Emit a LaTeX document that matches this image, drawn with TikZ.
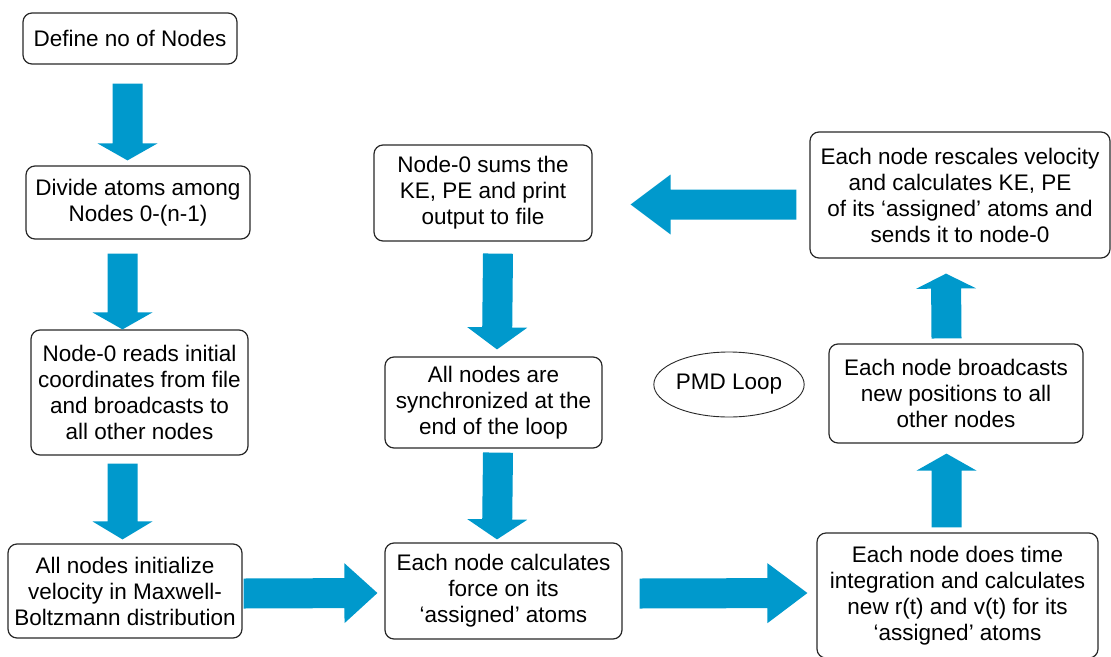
\documentclass[tikz,border=0pt]{standalone}
\usepackage{fontspec}
\setmainfont{Liberation Sans}
\usetikzlibrary{calc,shapes.geometric}
\definecolor{arrowblue}{RGB}{0,153,204}
\definecolor{boxline}{RGB}{40,40,40}
\newcommand\blockarrow[3]{%
  \coordinate (ba-h) at ($(#2)!#3!(#1)$);
  \fill[arrowblue] ($(#1)!15pt!90:(#2)$) -- ($(ba-h)!15pt!90:(#2)$) -- ($(ba-h)!30pt!90:(#2)$) -- (#2)
    -- ($(ba-h)!30pt!-90:(#2)$) -- ($(ba-h)!15pt!-90:(#2)$) -- ($(#1)!15pt!-90:(#2)$) -- cycle;}
\tikzset{
  box/.style={draw=boxline, line width=1.2pt, rounded corners=9pt, fill=white, align=center,
    inner sep=2pt, font=\fontsize{22.5}{26}\selectfont, text=black},
  loopnode/.style={draw=boxline, line width=0.9pt, ellipse, inner sep=0pt, align=center,
    font=\fontsize{22.5}{26}\selectfont, text=black}
}
\begin{document}
\begin{tikzpicture}[x=1pt,y=-1pt]
\useasboundingbox (0,0) rectangle (1111,656);
\fill[white] (0,0) rectangle (1111,656);
% boxes
\node[box, minimum width=214pt, minimum height=51pt] (b1) at (130,38.5) {Define no of Nodes};
\node[box, minimum width=224pt, minimum height=73pt] (b2) at (138,202.5) {Divide atoms among\\Nodes 0-(n-1)};
\node[box, minimum width=217pt, minimum height=125pt] (b3) at (139.5,392.5) {Node-0 reads initial\\coordinates from file\\and broadcasts to\\all other nodes};
\node[box, minimum width=234pt, minimum height=94pt] (b4) at (125,591) {All nodes initialize\\velocity in Maxwell-\\Boltzmann distribution};
\node[box, minimum width=218pt, minimum height=96pt] (b5) at (483,193) {Node-0 sums the\\KE, PE and print\\output to file};
\node[box, minimum width=217pt, minimum height=91pt] (b6) at (493.5,402.5) {All nodes are\\synchronized at the\\end of the loop};
\node[box, minimum width=237pt, minimum height=96pt] (b7) at (503.5,591) {Each node calculates\\force on its\\‘assigned’ atoms};
\node[box, minimum width=254pt, minimum height=99pt] (b8) at (956,393.5) {Each node broadcasts\\new positions to all\\other nodes};
\node[box, minimum width=281pt, minimum height=125pt] (b9) at (957.5,595.5) {Each node does time\\integration and calculates\\new r(t) and v(t) for its\\‘assigned’ atoms};
\node[box, minimum width=300pt, minimum height=126pt] (b10) at (960,195) {Each node rescales velocity\\and calculates KE, PE\\of its ‘assigned’ atoms and\\sends it to node-0};
\node[loopnode, minimum width=144pt, minimum height=65pt] (loop) at (729,384.5) {PMD Loop};
% arrow end points
\coordinate (a1s) at ($(b1.south)+(-2.5,19)$);  \coordinate (a1e) at ($(b2.north)+(-10.5,-5)$);
\coordinate (a2s) at ($(b2.south)+(-15.5,14)$); \coordinate (a2e) at ($(b3.north)+(-17,0)$);
\coordinate (a3s) at ($(b3.south)+(-17,8)$);    \coordinate (a3e) at ($(b4.north)+(-2.5,-4)$);
\coordinate (a4s) at ($(b4.east)+(1,2.5)$);     \coordinate (a4e) at ($(b7.west)+(-7,2)$);
\coordinate (a5s) at ($(b5.south)+(15,12)$);    \coordinate (a5e) at ($(b6.north)+(3.5,-7)$);
\coordinate (a6s) at ($(b6.south)+(4.5,4)$);    \coordinate (a6e) at ($(b7.north)+(-6.5,-3)$);
\coordinate (a7s) at ($(b7.east)+(17,2.5)$);    \coordinate (a7e) at ($(b9.west)+(-9,-2.5)$);
\coordinate (a8s) at ($(b9.north)+(-11,-5)$);   \coordinate (a8e) at ($(b8.south)+(-9.5,10)$);
\coordinate (a9s) at ($(b8.north)+(-9.5,-5)$);  \coordinate (a9e) at ($(b10.south)+(-14,15)$);
\coordinate (a10s) at ($(b10.west)+(-13,9.5)$); \coordinate (a10e) at ($(b5.east)+(38,11.5)$);
% block arrows
\blockarrow{a1s}{a1e}{17pt}
\blockarrow{a2s}{a2e}{17pt}
\blockarrow{a3s}{a3e}{18pt}
\blockarrow{a4s}{a4e}{33pt}
\blockarrow{a5s}{a5e}{22pt}
\blockarrow{a6s}{a6e}{20pt}
\blockarrow{a7s}{a7e}{40pt}
\blockarrow{a8s}{a8e}{17pt}
\blockarrow{a9s}{a9e}{15pt}
\blockarrow{a10s}{a10e}{40pt}
\end{tikzpicture}
\end{document}
